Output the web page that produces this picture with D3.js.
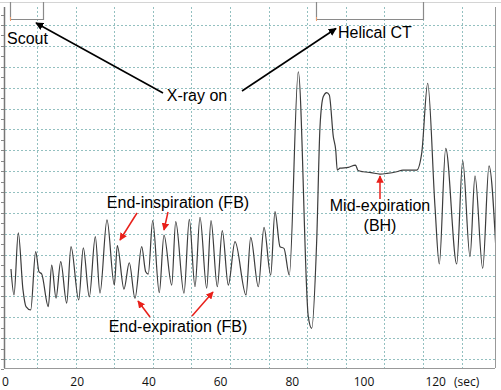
<!DOCTYPE html>
<html>
<head>
<meta charset="utf-8">
<script src="https://cdn.jsdelivr.net/npm/d3@7"></script>
<style>
body{margin:0;background:#fff;}
svg{display:block;}
</style>
</head>
<body>
<svg id="chart"></svg>
<script>
// respiratory trace, time (sec) and amplitude (grid units)
var times = [1.53,2.37,3.57,4.88,5.72,7.03,8.42,9.34,10.10,11.94,12.89,14.09,15.40,17.07,18.27,20.42,21.70,23.38,25.05,26.36,
  28.31,30.35,31.19,33.05,34.53,36.12,37.99,39.11,39.83,41.06,42.90,44.21,46.36,47.48,49.79,51.27,52.86,54.25,56.12,57.32,
  59.08,60.47,62.15,64.02,67.09,68.40,70.52,72.11,73.97,75.17,76.57,77.68,79.16,81.67,84.46,85.41,86.81,87.73,88.65,89.60,
  90.32,91.44,92.11,92.55,93.31,95.62,97.63,98.33,99.80,101.95,104.46,106.42,109.12,110.88,114.70,116.09,117.77,119.80,121.00,122.79,
  125.86,127.53,129.57,130.96,133.11,134.87,137.01];
var amps = [4.31,3.07,6.04,3.31,2.51,2.35,5.14,4.18,4.07,2.51,4.50,2.92,4.66,2.68,5.38,2.83,5.32,2.98,5.86,3.16,
  6.66,3.54,5.43,3.35,4.61,2.91,5.38,4.18,4.07,6.63,3.18,5.94,3.54,6.58,3.15,6.69,3.46,6.79,3.39,6.63,
  3.46,6.15,3.54,5.62,3.07,5.83,3.46,6.31,4.02,7.06,5.38,5.30,4.02,13.76,2.03,1.47,5.70,11.13,12.57,12.76,
  12.65,10.65,10.01,9.05,9.14,9.18,9.29,9.03,8.97,8.93,8.86,8.89,8.97,9.05,9.05,9.85,13.21,7.30,4.55,10.09,
  4.55,9.50,4.90,8.77,4.34,9.25,4.55];
var xTicks = [0,20,40,60,80,100,120];
var xUnit = "(sec)";
var gridCols = d3.range(0,12);
var gridRows = d3.range(0,17);
var scanBoxes = [{name:"Scout", t0:1.25, t1:10.5}, {name:"Helical CT", t0:86.6, t1:116.4}];

var W = 501, H = 390;
var svg = d3.select("#chart").attr("width",W).attr("height",H);

var pL = 4, pR = 495, pT = 3, pB = 368;
var x = d3.scaleLinear().domain([0,120]).range([5.5,435.7]);
var y = d3.scaleLinear().domain([0,16]).range([359,25]);
var gx = d3.scaleLinear().domain([0,1]).range([37,75.6]);

// faint strip at top
svg.append("line").attr("x1",0).attr("x2",W).attr("y1",2.5).attr("y2",2.5)
  .attr("stroke","#d4d4d4").attr("stroke-width",1);

// grid
svg.append("g").selectAll("line").data(gridRows).enter().append("line")
  .attr("x1",pL+1).attr("x2",pR).attr("y1",function(d){return Math.round(y(d))+0.5;})
  .attr("y2",function(d){return Math.round(y(d))+0.5;})
  .attr("stroke","#93c0c0").attr("stroke-dasharray","2,2").attr("stroke-width",1);
svg.append("g").selectAll("line").data(gridCols).enter().append("line")
  .attr("y1",pT+4).attr("y2",pB).attr("x1",function(d){return Math.round(gx(d))+0.5;})
  .attr("x2",function(d){return Math.round(gx(d))+0.5;})
  .attr("stroke","#93c0c0").attr("stroke-dasharray","2,2").attr("stroke-width",1);

// left axis with small ticks
svg.append("line").attr("x1",pL+0.5).attr("x2",pL+0.5).attr("y1",pT+4).attr("y2",pB)
  .attr("stroke","#777").attr("stroke-width",1.5);
svg.append("g").selectAll("line").data(d3.range(-0.5,16.6,0.5)).enter().append("line")
  .attr("x1",1).attr("x2",pL)
  .attr("y1",function(d){return Math.round(y(d))+0.5;}).attr("y2",function(d){return Math.round(y(d))+0.5;})
  .attr("stroke","#888").attr("stroke-width",1);
// frame
svg.append("line").attr("x1",pL).attr("x2",pR).attr("y1",pB+0.5).attr("y2",pB+0.5)
  .attr("stroke","#999").attr("stroke-width",1);
svg.append("line").attr("x1",pR+0.5).attr("x2",pR+0.5).attr("y1",pT+4).attr("y2",pB)
  .attr("stroke","#999").attr("stroke-width",1);

// scan boxes
scanBoxes.forEach(function(b){
  var x0 = Math.round(x(b.t0))+0.5, x1 = Math.round(x(b.t1))+0.5;
  svg.append("path").attr("d","M"+x0+",2 V19.5 H"+x1+" V2")
    .attr("fill","none").attr("stroke","#8a8a8a").attr("stroke-width",1.2);
  svg.append("line").attr("x1",x0).attr("x2",x0).attr("y1",17).attr("y2",21)
    .attr("stroke","#f0a070").attr("stroke-width",1);
});

// trace
var pts = times.map(function(t,i){return [t,amps[i]];});
svg.append("defs").append("clipPath").attr("id","plotclip").append("rect")
  .attr("x",pL+1).attr("y",pT).attr("width",pR-pL-1).attr("height",pB-pT);
svg.append("path").datum(pts)
  .attr("clip-path","url(#plotclip)")
  .attr("d",d3.line().x(function(d){return x(d[0]);}).y(function(d){return y(d[1]);}).curve(d3.curveMonotoneX))
  .attr("fill","none").attr("stroke","#3c3c3c").attr("stroke-width",1.2);

// x labels
svg.append("g").selectAll("text").data(xTicks).enter().append("text")
  .attr("x",function(d){return x(d);}).attr("y",385.5)
  .attr("text-anchor","middle").attr("font-family","Open Sans").attr("font-size",12).attr("fill","#111")
  .text(function(d){return d;});
svg.append("text").attr("x",466.7).attr("y",385.5).attr("text-anchor","middle")
  .attr("font-family","Open Sans").attr("font-size",12).attr("fill","#111").text(xUnit);

// arrow markers
var defs = svg.append("defs");
function marker(id,color){
  defs.append("marker").attr("id",id).attr("viewBox","0 0 10 10").attr("refX",9).attr("refY",5)
    .attr("markerWidth",5).attr("markerHeight",5).attr("orient","auto")
    .append("path").attr("d","M0,0 L10,5 L0,10 z").attr("fill",color);
}
marker("ab","#000");
marker("ar","#e8201a");

function arrow(x1,y1,x2,y2,color,id,w){
  svg.append("line").attr("x1",x1).attr("y1",y1).attr("x2",x2).attr("y2",y2)
    .attr("stroke",color).attr("stroke-width",w).attr("marker-end","url(#"+id+")");
}
function label(tx,ty,s,anchor){
  svg.append("text").attr("x",tx).attr("y",ty).attr("text-anchor",anchor||"start")
    .attr("font-family","Liberation Sans, Arial").attr("font-size",16).attr("fill","#000").text(s);
}

label(7,43.5,"Scout");
label(338,37.5,"Helical CT");
label(197,101,"X-ray on","middle");
arrow(163,93,36,23,"#000","ab",1.6);
arrow(242,91,336,28.5,"#000","ab",1.6);

label(178,208,"End-inspiration (FB)","middle");
arrow(137,213,120,240,"#e8201a","ar",1.5);
arrow(168,212,164,230,"#e8201a","ar",1.5);

label(178,332,"End-expiration (FB)","middle");
arrow(150,317,138,301,"#e8201a","ar",1.5);
arrow(192,316,213,292,"#e8201a","ar",1.5);

label(380,211,"Mid-expiration","middle");
label(380,231,"(BH)","middle");
arrow(380,199,380,176,"#e8201a","ar",1.5);
</script>
</body>
</html>
